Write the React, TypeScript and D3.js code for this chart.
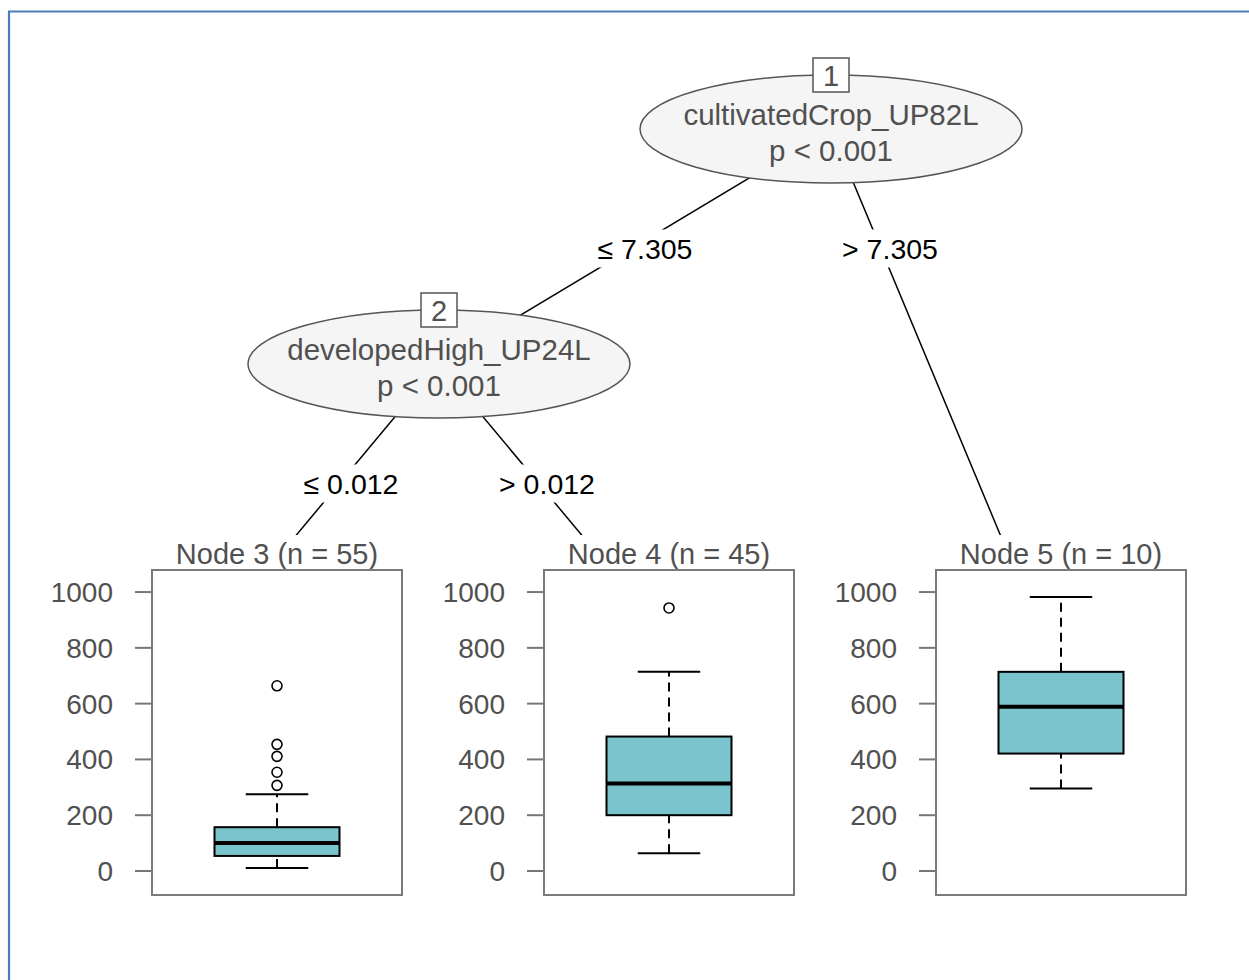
import React, { useEffect, useRef } from 'react';
import * as d3 from 'd3';

const width = 1249,
  height = 980;

// inner (split) nodes
const innerIds = [1, 2];
const splitVars = ['cultivatedCrop_UP82L', 'developedHigh_UP24L'];
const pLabels = ['p < 0.001', 'p < 0.001'];

// edges of the tree
const edgeFrom = [1, 1, 2, 2];
const edgeTo = [2, 5, 3, 4];
const edgeLabels = ['\u2264 7.305', '> 7.305', '\u2264 0.012', '> 0.012'];

// terminal nodes (boxplot stats)
const terminalIds = [3, 4, 5];
const terminalN = [55, 45, 10];
const whiskerLo = [11, 64, 296];
const q1 = [54, 200, 421];
const medians = [100, 314, 589];
const q3 = [157, 482, 714];
const whiskerHi = [275, 714, 982];
const outliers = [[307, 354, 411, 454, 664], [943], []];
const yTicks = [0, 200, 400, 600, 800, 1000];

const FONT = '"Liberation Sans", Arial, sans-serif';
const GRAY = '#505050';
const BOXFILL = '#7AC5CD';

function App() {
  const ref = useRef<SVGSVGElement>(null);

  useEffect(() => {
    const svg = d3.select(ref.current);
    svg.selectAll('*').remove();

    // tree structure
    const kids: Record<number, number[]> = {};
    edgeFrom.forEach((f, i) => {
      (kids[f] = kids[f] || []).push(edgeTo[i]);
    });
    const nTerm = (id: number): number => (kids[id] ? d3.sum(kids[id], nTerm) : 1);
    const pos: Record<number, { u: number; depth: number; level: number }> = {};
    const maxLevel = 2;
    const place = (id: number, start: number, depth: number) => {
      if (!kids[id]) {
        pos[id] = { u: start + 0.5, depth, level: maxLevel };
        return;
      }
      const [l, r] = kids[id];
      pos[id] = { u: start + nTerm(l), depth, level: depth };
      place(l, start, depth + 1);
      place(r, start + nTerm(l), depth + 1);
    };
    place(1, 0, 0);

    const xUnit = d3.scaleLinear().domain([0, terminalIds.length]).range([47, 1223]);
    const yLevel = d3.scaleLinear().domain([0, maxLevel]).range([129, 599]);
    const px = (id: number) => xUnit(pos[id].u);
    const py = (id: number) => yLevel(pos[id].level);

    // frame
    svg
      .append('path')
      .attr('d', `M9,${height + 5}V11.5H${width + 5}`)
      .attr('fill', 'none')
      .attr('stroke', '#4a7ebb')
      .attr('stroke-width', 2.2);

    // edges
    const edges = edgeFrom.map((f, i) => ({ f, t: edgeTo[i], label: edgeLabels[i] }));
    svg
      .append('g')
      .selectAll('line')
      .data(edges)
      .enter()
      .append('line')
      .attr('x1', (d) => px(d.f))
      .attr('y1', (d) => py(d.f))
      .attr('x2', (d) => px(d.t))
      .attr('y2', (d) => py(d.t))
      .attr('stroke', '#000')
      .attr('stroke-width', 1.5);

    // edge labels
    const lg = svg.append('g');
    edges.forEach((d) => {
      const ly = (yLevel(pos[d.f].depth) + yLevel(pos[d.f].depth + 1)) / 2;
      const x1 = px(d.f), y1 = py(d.f), x2 = px(d.t), y2 = py(d.t);
      const lx = x1 + ((ly - y1) / (y2 - y1)) * (x2 - x1) + 10;
      const rect = lg.append('rect').attr('fill', '#fff');
      const txt = lg
        .append('text')
        .attr('x', lx)
        .attr('y', ly + 12)
        .attr('text-anchor', 'middle')
        .style('font-family', FONT)
        .style('font-size', '28.5px')
        .attr('fill', '#000')
        .text(d.label);
      const w = (txt.node() as SVGTextElement).getComputedTextLength();
      rect
        .attr('x', lx - w / 2 - 4)
        .attr('y', ly - 17)
        .attr('width', w + 8)
        .attr('height', 38);
    });

    // terminal panels
    const allVals = whiskerLo.concat(whiskerHi, ...outliers);
    const lo = d3.min(allVals) as number, hi = d3.max(allVals) as number;
    const pad = (hi - lo) * 0.1;
    const panelTop = 570, panelBottom = 895, panelW = 250;
    const y = d3.scaleLinear().domain([lo - pad, hi + pad]).range([panelBottom, panelTop]);

    terminalIds.forEach((id, i) => {
      const vc = px(id);
      const left = vc - 91;
      const cx = left + panelW / 2;
      const g = svg.append('g');

      g.append('rect')
        .attr('x', vc - 196)
        .attr('y', 535)
        .attr('width', 392)
        .attr('height', panelBottom - 535 + 4)
        .attr('fill', '#fff');

      g.append('text')
        .attr('x', cx)
        .attr('y', panelTop - 6)
        .attr('text-anchor', 'middle')
        .style('font-family', FONT)
        .style('font-size', '29px')
        .attr('fill', GRAY)
        .text(`Node ${id} (n = ${terminalN[i]})`);

      // y axis
      const ax = g.append('g');
      ax.selectAll('line')
        .data(yTicks)
        .enter()
        .append('line')
        .attr('x1', left - 17)
        .attr('x2', left)
        .attr('y1', (d) => y(d))
        .attr('y2', (d) => y(d))
        .attr('stroke', '#777')
        .attr('stroke-width', 2);
      ax.selectAll('text')
        .data(yTicks)
        .enter()
        .append('text')
        .attr('x', left - 39)
        .attr('y', (d) => y(d))
        .attr('dy', '0.36em')
        .attr('text-anchor', 'end')
        .style('font-family', FONT)
        .style('font-size', '28px')
        .attr('fill', GRAY)
        .text((d) => d);

      g.append('rect')
        .attr('x', left)
        .attr('y', panelTop)
        .attr('width', panelW)
        .attr('height', panelBottom - panelTop)
        .attr('fill', 'none')
        .attr('stroke', '#7a7a7a')
        .attr('stroke-width', 2);

      // whiskers
      const bw = panelW / 2, cw = panelW / 4;
      [[whiskerLo[i], q1[i]], [q3[i], whiskerHi[i]]].forEach(([a, b]) => {
        g.append('line')
          .attr('x1', cx)
          .attr('x2', cx)
          .attr('y1', y(a))
          .attr('y2', y(b))
          .attr('stroke', '#000')
          .attr('stroke-width', 2)
          .attr('stroke-dasharray', '9,6');
      });
      [whiskerLo[i], whiskerHi[i]].forEach((v) => {
        g.append('line')
          .attr('x1', cx - cw / 2)
          .attr('x2', cx + cw / 2)
          .attr('y1', y(v))
          .attr('y2', y(v))
          .attr('stroke', '#000')
          .attr('stroke-width', 2);
      });
      g.append('rect')
        .attr('x', cx - bw / 2)
        .attr('y', y(q3[i]))
        .attr('width', bw)
        .attr('height', y(q1[i]) - y(q3[i]))
        .attr('fill', BOXFILL)
        .attr('stroke', '#000')
        .attr('stroke-width', 2);
      g.append('line')
        .attr('x1', cx - bw / 2)
        .attr('x2', cx + bw / 2)
        .attr('y1', y(medians[i]))
        .attr('y2', y(medians[i]))
        .attr('stroke', '#000')
        .attr('stroke-width', 4);
      g.selectAll('circle')
        .data(outliers[i])
        .enter()
        .append('circle')
        .attr('cx', cx)
        .attr('cy', (d) => y(d))
        .attr('r', 5)
        .attr('fill', '#fff')
        .attr('stroke', '#000')
        .attr('stroke-width', 1.6);
    });

    // inner nodes
    const rx = 191, ry = 54;
    innerIds.forEach((id, i) => {
      const cx = px(id), cy = py(id);
      const g = svg.append('g');
      g.append('ellipse')
        .attr('cx', cx)
        .attr('cy', cy)
        .attr('rx', rx)
        .attr('ry', ry)
        .attr('fill', '#f5f5f5')
        .attr('stroke', '#555')
        .attr('stroke-width', 1.5);
      [splitVars[i], pLabels[i]].forEach((t, j) => {
        g.append('text')
          .attr('x', cx)
          .attr('y', cy - 4 + j * 36)
          .attr('text-anchor', 'middle')
          .style('font-family', FONT)
          .style('font-size', '29.5px')
          .attr('fill', GRAY)
          .text(t);
      });
      g.append('rect')
        .attr('x', cx - 18)
        .attr('y', cy - ry - 17)
        .attr('width', 36)
        .attr('height', 34)
        .attr('fill', '#fff')
        .attr('stroke', '#555')
        .attr('stroke-width', 1.5);
      g.append('text')
        .attr('x', cx)
        .attr('y', cy - ry + 11)
        .attr('text-anchor', 'middle')
        .style('font-family', FONT)
        .style('font-size', '29px')
        .attr('fill', GRAY)
        .text(id);
    });
  }, []);

  return (
    <svg
      ref={ref}
      width={width}
      height={height}
      style={{ position: 'absolute', left: 0, top: 0, background: '#fff' }}
    />
  );
}

export default App;
